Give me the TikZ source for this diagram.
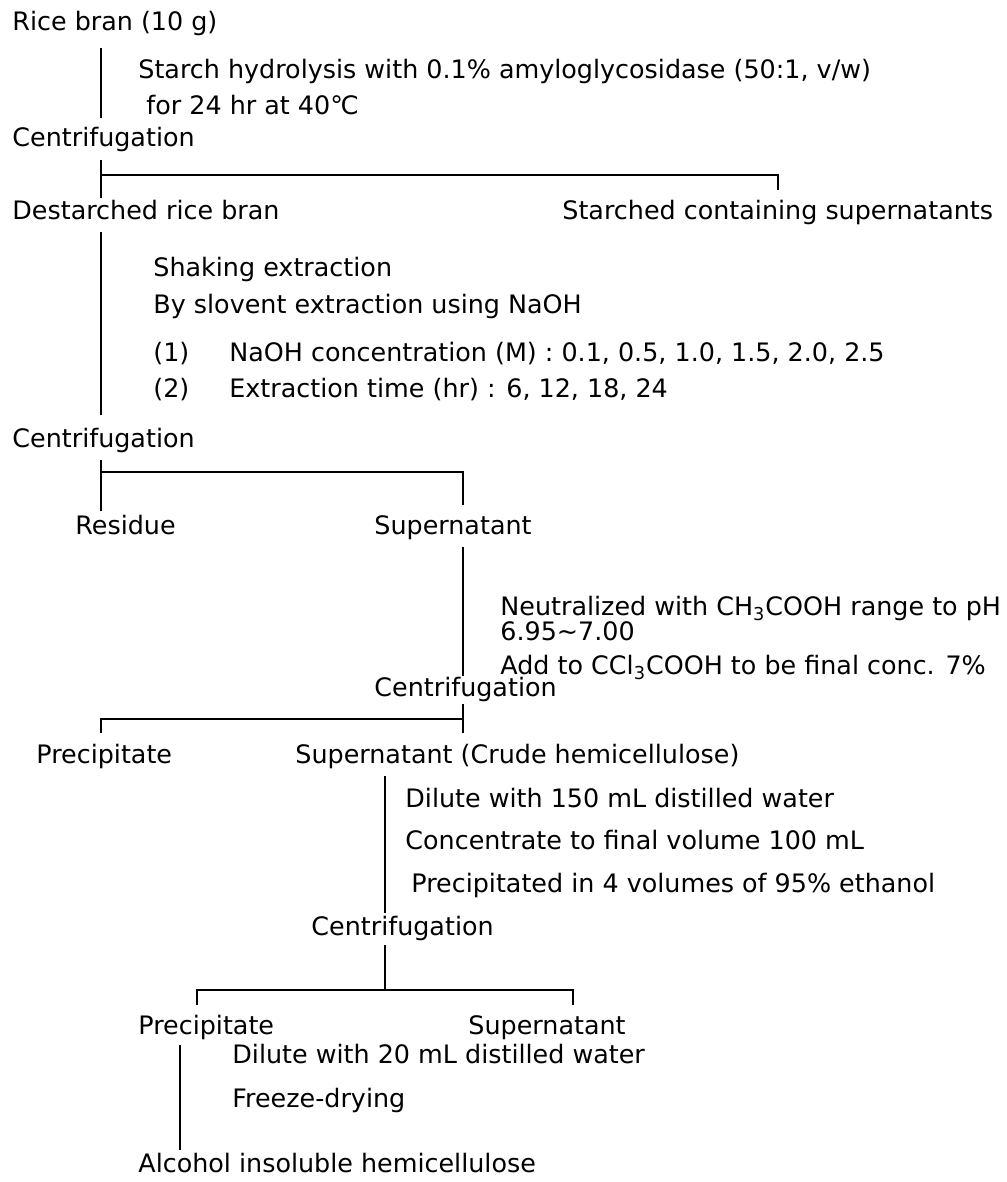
\documentclass[tikz,border=0pt]{standalone}
\usepackage{fontspec}
\setmainfont{DejaVu Sans}
\usepackage{tikz}
\usetikzlibrary{positioning}

\tikzset{
    txt/.style={anchor=west, inner sep=0pt, text height=9pt, text depth=2.5pt},
    link/.style={line width=1pt},
}

\begin{document}
\begin{tikzpicture}[x=0.5pt, y=-0.5pt, font=\fontsize{12.7}{15}\selectfont]
        \useasboundingbox (0,0) rectangle (1006,1182);

        % Starch removal
        \node[txt] (rice) at (12,24) {Rice bran (10 g)};
        \node[txt] (hydro) at (138,72) {Starch hydrolysis with 0.1\% amyloglycosidase (50:1, v/w)};
        \node[txt] (hydrotime) at (146,108) {for 24 hr at 40℃};
        \node[txt] (cent1) at (12,140) {Centrifugation};
        \node[txt] (destarch) at (12,213) {Destarched rice bran};
        \node[txt] (starchsup) at (562,213) {Starched containing supernatants};

        \coordinate (j1) at (101,175);
        \coordinate (t1) at (778,175);
        \draw[link, shorten <=6.25pt, shorten >=5.25pt] (rice.south -| j1) -- (cent1.north -| j1);
        \draw[link, shorten <=4.25pt, shorten >=1.75pt] (cent1.south -| j1) -- (destarch.north -| j1);
        \draw[link, shorten >=5.75pt] (j1) -| (starchsup.north -| t1);

        % Alkaline extraction
        \node[txt] (shake) at (153,270) {Shaking extraction};
        \node[txt] (solvent) at (153,307) {By slovent extraction using NaOH};
        \node[txt] (cond1) at (153,355) {\makebox[38pt][l]{(1)}NaOH concentration (M) : 0.1, 0.5, 1.0, 1.5, 2.0, 2.5};
        \node[txt] (cond2) at (153,391) {\makebox[38pt][l]{(2)}Extraction time (hr) : 6, 12, 18, 24};
        \node[txt] (cent2) at (12,441) {Centrifugation};
        \node[txt] (residue) at (75,528) {Residue};
        \node[txt] (sup1) at (374,528) {Supernatant};

        \coordinate (j2) at (101,472);
        \coordinate (t2) at (463,472);
        \draw[link, shorten <=3.75pt, shorten >=7.25pt] (destarch.south -| j1) -- (cent2.north -| j1);
        \draw[link, shorten <=3.75pt, shorten >=2.75pt] (cent2.south -| j2) -- (residue.north -| j2);
        \draw[link, shorten >=5.75pt] (j2) -| (sup1.north -| t2);

        % Neutralization
        \node[txt] (neut) at (500,609) {Neutralized with CH\textsubscript{3}COOH range to pH};
        \node[txt] (ph) at (500,634) {6.95\textasciitilde 7.00};
        \node[txt] (tca) at (500,668) {Add to CCl\textsubscript{3}COOH to be final conc. 7\%};
        \node[txt] (cent3) at (374,690) {Centrifugation};
        \node[txt] (precip1) at (36,757) {Precipitate};
        \node[txt] (crude) at (295,757) {Supernatant (Crude hemicellulose)};

        \coordinate (j3) at (463,719);
        \coordinate (t3) at (101,719);
        \draw[link, shorten <=3.75pt, shorten >=1.25pt] (sup1.south -| t2) -- (cent3.north -| t2);
        \draw[link, shorten <=1.25pt, shorten >=6.25pt] (cent3.south -| j3) -- (crude.north -| j3);
        \draw[link, shorten >=6.25pt] (j3) -| (precip1.north -| t3);

        % Ethanol precipitation
        \node[txt] (dilute1) at (405,801) {Dilute with 150 mL distilled water};
        \node[txt] (concen) at (405,843) {Concentrate to final volume 100 mL};
        \node[txt] (ethanol) at (411,886) {Precipitated in 4 volumes of 95\% ethanol};
        \node[txt] (cent4) at (311,929) {Centrifugation};
        \node[txt] (precip2) at (138,1028) {Precipitate};
        \node[txt] (sup2) at (468,1028) {Supernatant};

        \coordinate (j4) at (385,990);
        \coordinate (t4l) at (197,990);
        \coordinate (t4r) at (573,990);
        \draw[link, shorten <=3.75pt, shorten >=2.25pt] (crude.south -| j4) -- (cent4.north -| j4);
        \draw[link, shorten <=2.25pt] (cent4.south -| j4) -- (j4);
        \draw[link, shorten >=5.75pt] (j4) -| (precip2.north -| t4l);
        \draw[link, shorten >=5.75pt] (j4) -| (sup2.north -| t4r);

        % Final product
        \node[txt] (dilute2) at (232,1057) {Dilute with 20 mL distilled water};
        \node[txt] (freeze) at (232,1101) {Freeze-drying};
        \node[txt] (alcohol) at (138,1166) {Alcohol insoluble hemicellulose};

        \coordinate (b5) at (180,1100);
        \draw[link, shorten <=2.75pt, shorten >=2.25pt] (precip2.south -| b5) -- (alcohol.north -| b5);
    \end{tikzpicture}
\end{document}
